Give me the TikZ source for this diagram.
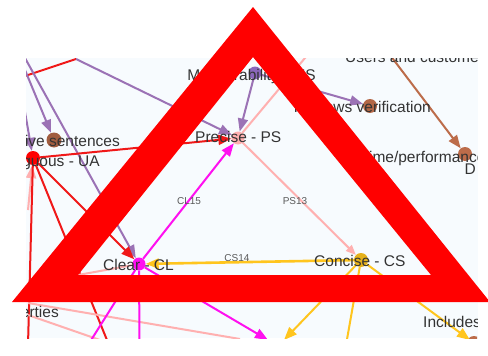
\documentclass[tikz,border=0pt]{standalone}
\usepackage{fontspec}
\setmainfont{Liberation Sans}
\usetikzlibrary{arrows.meta}
\definecolor{cpurple}{HTML}{9B72B5}
\definecolor{cred}{HTML}{F01818}
\definecolor{cpink}{HTML}{FFB0B0}
\definecolor{cmag}{HTML}{FF10F0}
\definecolor{cyel}{HTML}{FFC51E}
\definecolor{cbrown}{HTML}{BC6C4A}
\definecolor{panel}{HTML}{F7FBFE}
\definecolor{ctext}{HTML}{333333}
\tikzset{
 edge/.style={line width=2pt},
 tip/.style={-{Triangle[length=13pt,width=10pt]}},
 smalltip/.style={-{Triangle[length=10pt,width=8pt]}},
 dot/.style={circle,inner sep=0pt,minimum size=#1,draw=none},
 lab/.style={text=ctext,font=\fontsize{15.5}{16}\selectfont,inner sep=0pt,anchor=base},
 elab/.style={text=black!65,font=\fontsize{10}{11}\selectfont,inner sep=0pt},
}
\begin{document}
\begin{tikzpicture}[x=1pt,y=-1pt]
\useasboundingbox (0,0) rectangle (488,356);
\fill[white] (0,0) rectangle (488,356);
\fill[panel] (26,58) rectangle (478,338);
\begin{scope}
\clip (26,58) rectangle (477,338);
% free ends
\coordinate (tl1) at (25,58);
\coordinate (tl2) at (25,70);
\coordinate (tl3) at (25,112);
\coordinate (rl) at (25,76);
\coordinate (bend) at (76,59);
\coordinate (rb1) at (28,345);
\coordinate (rb2) at (109,345);
\coordinate (mb1) at (88,345);
\coordinate (mb2) at (139.5,345);
\coordinate (mb3) at (268,340);
\coordinate (yb1) at (284,340);
\coordinate (yb2) at (346,345);
\coordinate (yb3) at (470,340);
\coordinate (pt) at (310,52);
\coordinate (pl1) at (28,303);
\coordinate (pl2) at (28,315);
\coordinate (pr1) at (240,339);
\coordinate (pr2) at (100,340);
\coordinate (pc) at (78,275);
\coordinate (pu) at (28,210);
\coordinate (us) at (390,55);
% nodes
\node[dot=15pt,fill=cbrown!85!black] (sent) at (54,140) {};
\node[dot=14pt,fill=red] (ua) at (33,158) {};
\node[dot=13pt,fill=cpink] (ps) at (238,138) {};
\node[dot=13pt,fill=cmag] (cl) at (139,264) {};
\node[dot=14pt,fill=cyel!90!black] (cs) at (361,260) {};
\node[dot=13pt,fill=cpurple!90!blue] (ms) at (255,73) {};
\node[dot=14pt,fill=cbrown!95!black] (ver) at (370,106) {};
\node[dot=14pt,fill=cbrown] (perf) at (465,154) {};
\node[dot=14pt,fill=cbrown] (inc) at (474,343) {};
% connectors
\draw[edge,cred] (rl) -- (bend);
\draw[edge,cpurple,tip] (bend) -- (ps);
\draw[edge,cpurple,tip] (tl1) -- (cl);
\draw[edge,cpurple,tip] (tl2) -- (sent);
\draw[edge,cpurple,tip] (tl3) -- (ua);
\draw[edge,cpink,tip] (pu) -- (ua);
\draw[edge,cred,tip] (ua) -- (ps);
\draw[edge,cred,tip] (ua) -- (cl);
\draw[edge,cred] (ua) -- (rb1);
\draw[edge,cred] (ua) -- (rb2);
\draw[edge,cpink] (ps) -- (pt);
\draw[edge,cpink,smalltip] (ps) -- (cs);
\draw[edge,cpink] (pl1) -- (pr1);
\draw[edge,cpink] (pl2) -- (pr2);
\draw[edge,cpink] (pc) -- (cl);
\draw[edge,cmag,tip] (cl) -- (ps);
\draw[edge,cmag] (cl) -- (mb1);
\draw[edge,cmag] (cl) -- (mb2);
\draw[edge,cmag,tip] (cl) -- (mb3);
\draw[edge,cpurple,tip] (ms) -- (ps);
\draw[edge,cpurple,tip] (ms) -- (ver);
\draw[edge,cbrown,tip] (us) -- (perf);
\draw[line width=2.6pt,cyel,tip] (cs) -- (cl);
\draw[edge,cyel,tip] (cs) -- (yb1);
\draw[edge,cyel] (cs) -- (yb2);
\draw[edge,cyel,tip] (cs) -- (yb3);
% labels
\node[lab,anchor=base east] (t1) at (316,80) {Measurability - MS};
\node[lab,anchor=base east] (t2) at (120,146) {Descriptive sentences};
\node[lab,anchor=base east] (t3) at (100,166) {Ambiguous - UA};
\node[lab,anchor=base west] (t4) at (195,142) {Precise - PS};
\node[lab,anchor=base west] (t5) at (103,270) {Clear - CL};
\node[lab,anchor=base west] (t6) at (314,266) {Concise - CS};
\node[lab,anchor=base west] (t7) at (345,63) {Users and customers};
\node[lab,anchor=base east] (t8) at (431,112) {Reviews verification};
\node[lab,anchor=base west] (t9) at (360,162) {Time/performance};
\node[lab,anchor=base east] (t10) at (476,174) {D};
\node[lab,anchor=base east] (t11) at (59,317) {Properties};
\node[lab,anchor=base west] (t12) at (423,327) {Includes};
\node[elab] (e1) at (189,201) {CL15};
\node[elab] (e2) at (295,201) {PS13};
\node[elab] (e3) at (237,258) {CS14};
\end{scope}
% warning triangle
\fill[red,even odd rule] (253,7) -- (490,302) -- (12,302) -- cycle
 (253,57) -- (78,275) -- (431,275) -- cycle;
\end{tikzpicture}
\end{document}
